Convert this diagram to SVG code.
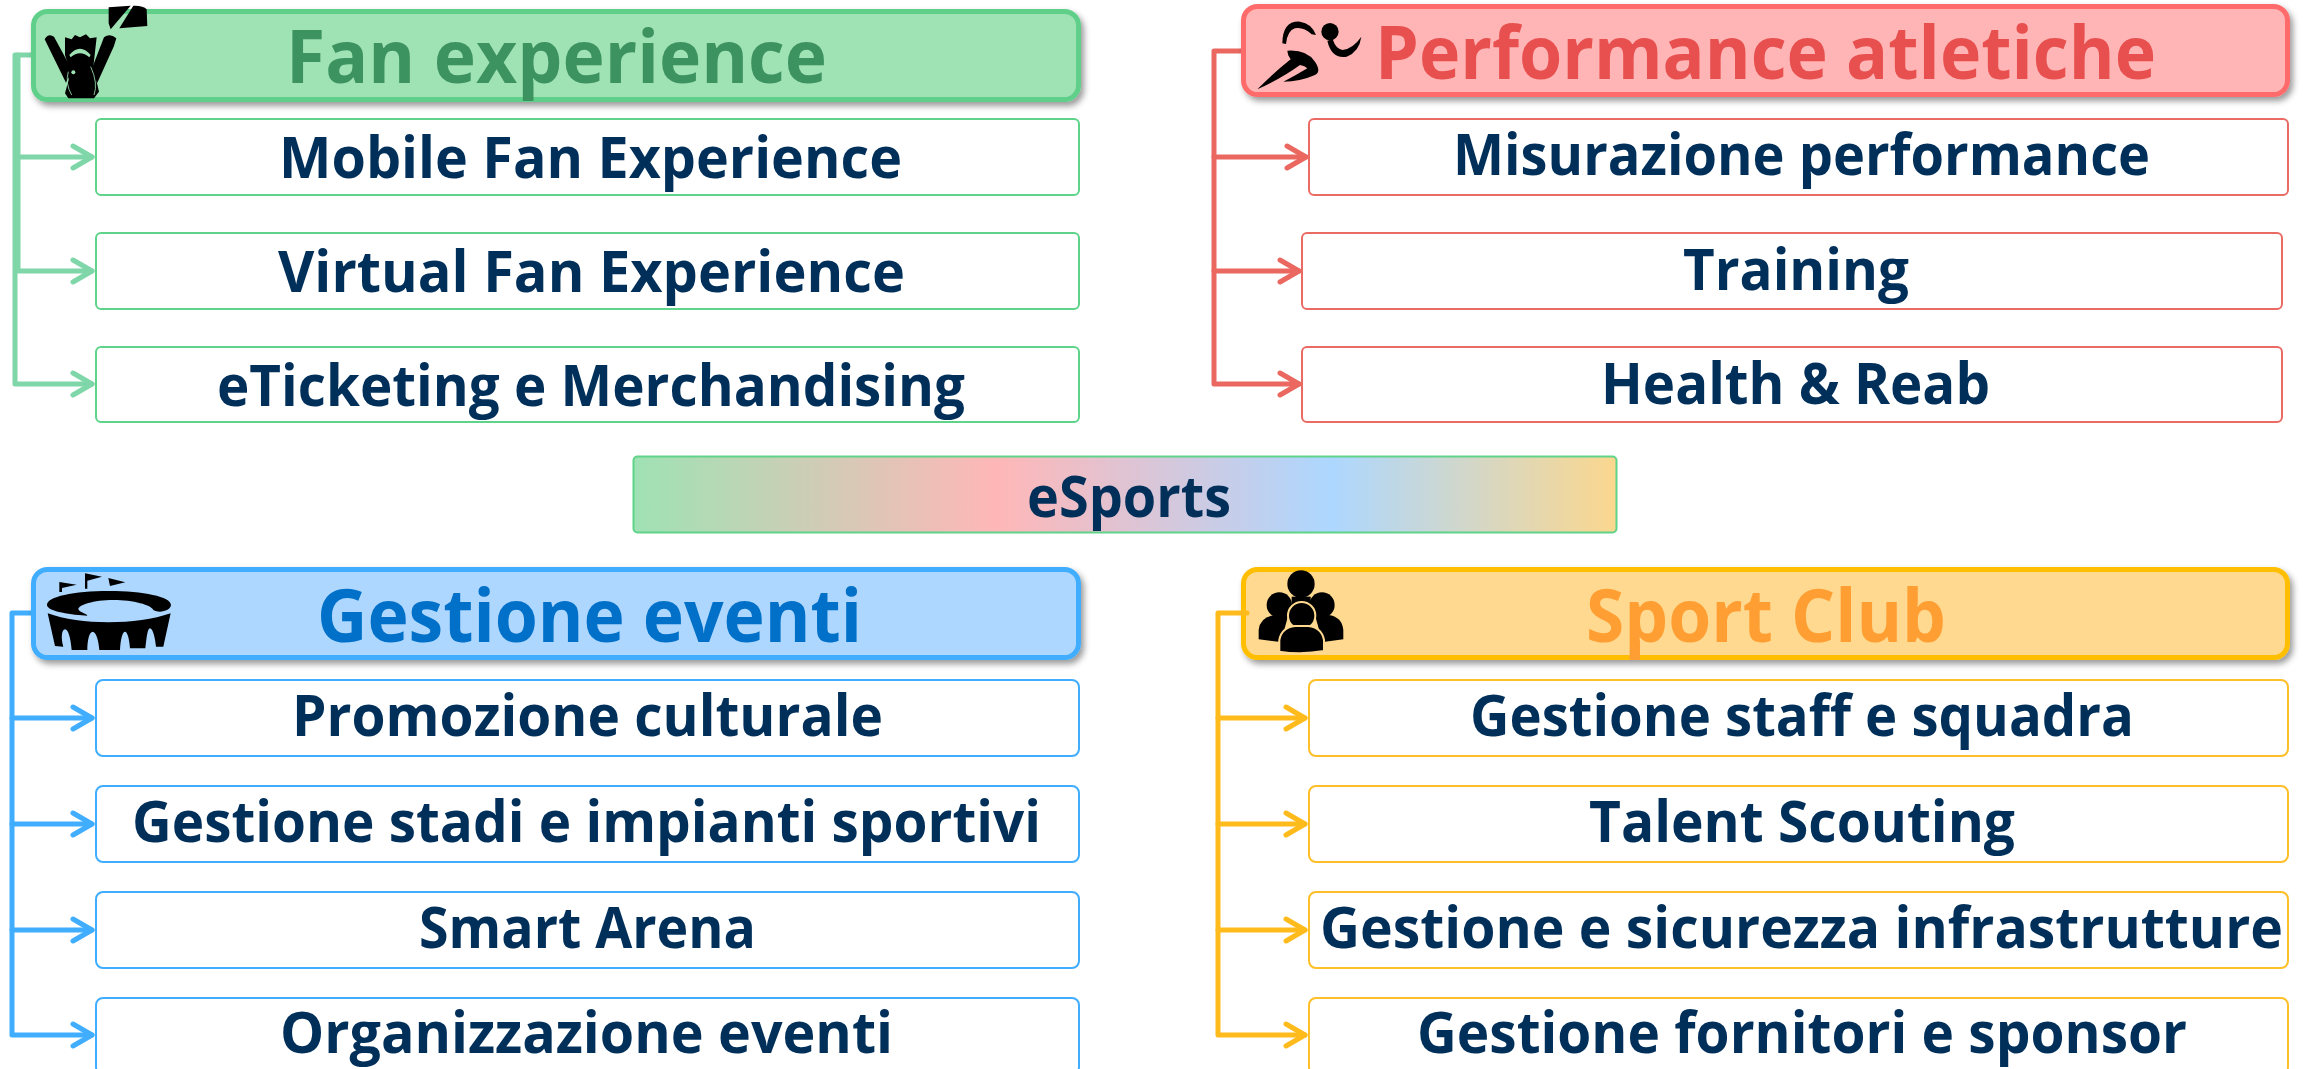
<svg xmlns="http://www.w3.org/2000/svg" width="2303" height="1069" viewBox="0 0 2303 1069">
<style>
text{font-family:"Open Sans","Noto Sans","DejaVu Sans",sans-serif;font-weight:700}
.t{font-size:57px;fill:#002f5a}
.h{font-size:74px}
.hd{stroke-width:5;filter:url(#sh)}
.it{fill:#fff;stroke-width:2}
.c{fill:none;stroke-width:5;stroke-linecap:round;stroke-linejoin:round}
.gr rect{stroke:#5fd38a}.gr path{stroke:#7fd6a8}
.rd rect{stroke:#ea6b63}.rd path{stroke:#ea6860}
.bl rect{stroke:#41adff}.bl path{stroke:#41adff}
.ye rect{stroke:#ffbf28}.ye path{stroke:#ffbb1c}
</style>
<defs>
<filter id="sh" x="-2%" y="-10%" width="104%" height="125%"><feDropShadow dx="3" dy="4" stdDeviation="3" flood-color="#000" flood-opacity=".4"/></filter>
<linearGradient id="rb"><stop offset="0" stop-color="#9fe2b4"/><stop offset=".37" stop-color="#ffb7b7"/><stop offset=".71" stop-color="#add7ff"/><stop offset="1" stop-color="#fbd78e"/></linearGradient>
<marker id="a" viewBox="-24 -14 28 28" markerUnits="userSpaceOnUse" markerWidth="28" markerHeight="28" refX="0" refY="0" orient="auto"><path d="M-19-11L0 0L-19 11" fill="none" stroke="context-stroke" stroke-width="5" stroke-linecap="round" stroke-linejoin="round"/></marker>
</defs>

<g id="connectors">
<g class="gr">
<path class="c" d="M33 55H15V384H92" marker-end="url(#a)"/>
<path class="c" d="M18 55V157H92" marker-end="url(#a)"/>
<path class="c" d="M18 157V271H92" marker-end="url(#a)"/>
</g>
<g class="rd">
<path class="c" d="M1243 51H1214V157H1306" marker-end="url(#a)"/>
<path class="c" d="M1214 157V271H1299" marker-end="url(#a)"/>
<path class="c" d="M1214 271V384H1299" marker-end="url(#a)"/>
</g>
<g class="bl">
<path class="c" d="M33 613H12V718H92" marker-end="url(#a)"/>
<path class="c" d="M12 718V824H92" marker-end="url(#a)"/>
<path class="c" d="M12 824V930H92" marker-end="url(#a)"/>
<path class="c" d="M12 930V1035H92" marker-end="url(#a)"/>
</g>
</g>

<g id="fan-experience">
<rect class="hd" x="33.500" y="11.500" width="1045" height="88" rx="14" fill="#9fe2b4" stroke="#5fcf8a"/>
<text class="h" x="286" y="83" fill="#3d9360" textLength="541" lengthAdjust="spacingAndGlyphs">Fan experience</text>
<g transform="scale(.3333)" fill="#000">
<path d="M326 22L392 17L332 88L326 70ZM400 17Q430 16 440 28L442 78L358 85Z"/>
<path d="M134 118Q145 98 162 110L216 210L198 248ZM312 112Q330 98 349 115L342 138L292 248L272 215Z"/>
<path d="M195 112L215 118L225 105L240 112L258 103L270 115L290 112L284 165L280 200L297 275L282 295H205L195 280L206 240L203 190L195 165Z"/>
<path d="M208 165Q240 128 272 165L268 172Q240 148 212 172Z" fill="#9fe2b4"/>
<circle cx="220" cy="217" r="6" fill="#9fe2b4"/>
<path d="M205 215Q195 250 215 285M272 200Q295 250 282 285" fill="none" stroke="#9fe2b4" stroke-width="2.500"/>
</g>
</g>
<g id="mobile-fan-experience" class="gr"><rect class="it" x="96" y="119" width="983" height="76" rx="5"/><text class="t" x="279" y="178" textLength="623" lengthAdjust="spacingAndGlyphs">Mobile Fan Experience</text></g>
<g id="virtual-fan-experience" class="gr"><rect class="it" x="96" y="233" width="983" height="76" rx="5"/><text class="t" x="278" y="292" textLength="627" lengthAdjust="spacingAndGlyphs">Virtual Fan Experience</text></g>
<g id="eticketing" class="gr"><rect class="it" x="96" y="347" width="983" height="75" rx="5"/><text class="t" x="217" y="406" textLength="748" lengthAdjust="spacingAndGlyphs">eTicketing e Merchandising</text></g>

<g id="performance-atletiche">
<rect class="hd" x="1243.500" y="6.500" width="1044" height="88" rx="14" fill="#ffb5b5" stroke="#ff6b6b"/>
<text class="h" x="1375" y="79" fill="#e85050" textLength="781" lengthAdjust="spacingAndGlyphs">Performance atletiche</text>
<g transform="translate(1200) scale(.3333)" fill="#000">
<circle cx="390" cy="95" r="26"/>
<path d="M247 130Q248 62 300 65Q335 70 348 105L335 103Q310 80 285 85Q262 92 258 132Z"/>
<path d="M382 122L398 118Q408 148 428 150Q460 145 484 110Q478 155 440 170Q395 178 382 122Z"/>
<path d="M262 152Q320 148 345 185Q365 215 345 225Q300 245 250 245Q290 225 322 205Q315 198 300 195Q245 235 172 268Q225 215 272 178Q262 165 262 152Z"/>
</g>
</g>
<g id="misurazione-performance" class="rd"><rect class="it" x="1309" y="119" width="979" height="76" rx="5"/><text class="t" x="1453" y="175" textLength="697" lengthAdjust="spacingAndGlyphs">Misurazione performance</text></g>
<g id="training" class="rd"><rect class="it" x="1302" y="233" width="980" height="76" rx="5"/><text class="t" x="1683" y="290" textLength="226" lengthAdjust="spacingAndGlyphs">Training</text></g>
<g id="health-reab" class="rd"><rect class="it" x="1302" y="347" width="980" height="75" rx="5"/><text class="t" x="1601" y="404" textLength="389" lengthAdjust="spacingAndGlyphs">Health &amp; Reab</text></g>

<g id="esports">
<rect x="633.500" y="456.500" width="983" height="76" rx="4" fill="url(#rb)" stroke="#5fd38a" stroke-width="2"/>
<text class="t" x="1027" y="517" textLength="204" lengthAdjust="spacingAndGlyphs">eSports</text>
</g>

<g id="gestione-eventi">
<rect class="hd" x="33.500" y="569.500" width="1045" height="88" rx="14" fill="#add7ff" stroke="#41adff"/>
<text class="h" x="317" y="642" fill="#0070c8" textLength="545" lengthAdjust="spacingAndGlyphs">Gestione eventi</text>
<g transform="translate(0 550) scale(.3333)" fill="#000">
<path d="M178 96L230 104L186 114V126L178 126ZM255 70L306 80L262 92V116L255 116ZM325 84L376 97L330 108Z"/>
<path d="M141 165C141 140 220 123 327 123C430 123 513 140 513 165C513 180 480 192 460 180C455 165 400 150 340 150C280 150 235 165 235 178C240 188 262 192 262 197C220 195 141 185 141 165Z"/>
<path d="M143 190C240 226 410 226 512 190L490 290H468C465 260 458 235 450 235C442 235 440 265 436 295H390C388 265 382 245 375 245C368 245 362 265 360 300H298C296 270 288 245 278 245C268 245 262 270 262 300H215C212 265 205 238 195 238C185 238 182 265 190 290L165 288Z"/>
</g>
</g>
<g id="promozione-culturale" class="bl"><rect class="it" x="96" y="680" width="983" height="76" rx="7"/><text class="t" x="292" y="736" textLength="591" lengthAdjust="spacingAndGlyphs">Promozione culturale</text></g>
<g id="gestione-stadi" class="bl"><rect class="it" x="96" y="786" width="983" height="76" rx="7"/><text class="t" x="132" y="842" textLength="909" lengthAdjust="spacingAndGlyphs">Gestione stadi e impianti sportivi</text></g>
<g id="smart-arena" class="bl"><rect class="it" x="96" y="892" width="983" height="76" rx="7"/><text class="t" x="419" y="948" textLength="337" lengthAdjust="spacingAndGlyphs">Smart Arena</text></g>
<g id="organizzazione-eventi" class="bl"><rect class="it" x="96" y="998" width="983" height="76" rx="7"/><text class="t" x="280" y="1053" textLength="613" lengthAdjust="spacingAndGlyphs">Organizzazione eventi</text></g>

<g id="sport-club">
<rect class="hd" x="1243.500" y="569.500" width="1044" height="88" rx="14" fill="#ffd98f" stroke="#ffbf00"/>
<text class="h" x="1586" y="642" fill="#ff9f33" textLength="360" lengthAdjust="spacingAndGlyphs">Sport Club</text>
</g>
<g id="sport-connector" class="ye">
<path class="c" d="M1247 613H1218V718H1305" marker-end="url(#a)"/>
<path class="c" d="M1218 718V824H1305" marker-end="url(#a)"/>
<path class="c" d="M1218 824V930H1305" marker-end="url(#a)"/>
<path class="c" d="M1218 930V1035H1305" marker-end="url(#a)"/>
</g>
<g id="sport-icon" transform="translate(1200 550) scale(.3333)" fill="#000">
<circle cx="303" cy="102" r="41"/><path d="M275 140H332V165H275Z"/>
<circle cx="238" cy="165" r="38"/><circle cx="366" cy="165" r="38"/>
<path d="M176 268V240Q180 200 225 195H265L250 250L235 275Z"/>
<path d="M430 268V240Q426 200 385 195H345L360 250L375 275Z"/>
<circle cx="305" cy="197" r="41" stroke="#ffd98f" stroke-width="6"/>
<path d="M238 305V270Q245 232 285 228H325Q365 232 372 270V303Q305 315 238 305Z" stroke="#ffd98f" stroke-width="6"/>
</g>
<g id="gestione-staff" class="ye"><rect class="it" x="1309" y="680" width="979" height="76" rx="7"/><text class="t" x="1470" y="736" textLength="664" lengthAdjust="spacingAndGlyphs">Gestione staff e squadra</text></g>
<g id="talent-scouting" class="ye"><rect class="it" x="1309" y="786" width="979" height="76" rx="7"/><text class="t" x="1589" y="842" textLength="426" lengthAdjust="spacingAndGlyphs">Talent Scouting</text></g>
<g id="gestione-sicurezza" class="ye"><rect class="it" x="1309" y="892" width="979" height="76" rx="7"/><text class="t" x="1320" y="948" textLength="963" lengthAdjust="spacingAndGlyphs">Gestione e sicurezza infrastrutture</text></g>
<g id="gestione-fornitori" class="ye"><rect class="it" x="1309" y="998" width="979" height="76" rx="7"/><text class="t" x="1417" y="1053" textLength="770" lengthAdjust="spacingAndGlyphs">Gestione fornitori e sponsor</text></g>
</svg>
